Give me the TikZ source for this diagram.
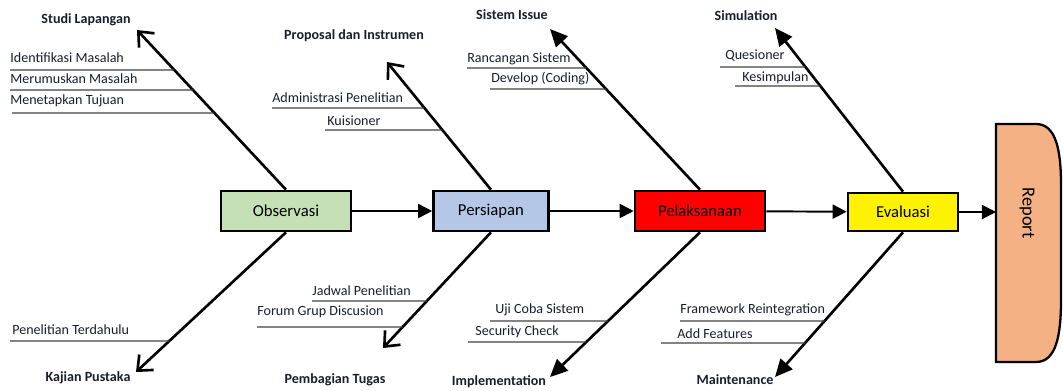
\documentclass[tikz,border=0pt]{standalone}
\usepackage{fontspec}
\setmainfont{Carlito}
\usetikzlibrary{arrows.meta, positioning, calc}
\definecolor{obsgreen}{RGB}{197,224,180}
\definecolor{prepblue}{RGB}{180,199,231}
\definecolor{reportorange}{RGB}{244,177,131}
\definecolor{labelink}{RGB}{25,30,45}

\begin{document}
\begin{tikzpicture}[x=0.02cm, y=-0.02cm,
    box/.style={draw, line width=1.5pt, minimum height=0.8cm, inner sep=0pt, font=\fontsize{9.5}{11}\selectfont},
    flow/.style={-{Triangle[length=8pt,width=8pt]}, line width=1.1pt},
    bone/.style={-{Straight Barb[length=7pt,width=12pt]}, line width=1.5pt},
    bonefill/.style={-{Triangle[length=10pt,width=9pt]}, line width=1.5pt},
    sub/.style={line width=0.8pt, black!75},
    cause/.style={font=\fontsize{8}{9.6}\selectfont\bfseries, text=labelink},
    subtxt/.style={anchor=base west, inner sep=0pt, font=\fontsize{8}{9.6}\selectfont, text=labelink}]
  \useasboundingbox (0,0) rectangle (1063,390);

  % Main process boxes
  \node[box, fill=obsgreen, minimum width=2.6cm] (obs) at (286,211) {Observasi};
  \node[box, fill=prepblue, minimum width=2.3cm] (prep) at (491,211) {Persiapan};
  \node[box, fill=red, minimum width=2.6cm] (exec) at (700,211) {Pelaksanaan};
  \node[box, fill=yellow, minimum width=2.2cm, minimum height=0.76cm] (eval) at (903,212) {Evaluasi};

  % Report head
  \draw[line width=1.3pt, fill=reportorange] (996,124) -- (1036,124)
    .. controls (1056,124) and (1061,150) .. (1061,185) -- (1061,300)
    .. controls (1061,336) and (1056,362) .. (1036,362) -- (996,362) -- cycle;
  \coordinate (repw) at (996,212);
  \node[rotate=-90, font=\fontsize{10.5}{12}\selectfont] (report) at (1027,213) {Report};

  % Spine
  \draw[flow] (obs) -- (prep);
  \draw[flow] (prep) -- (exec);
  \draw[flow] (exec) -- (eval);
  \draw[flow] (eval) -- (repw);

  % Bone tips
  \coordinate (t1) at (137,30);
  \coordinate (t2) at (136,372);
  \coordinate (t3) at (387,62);
  \coordinate (t4) at (383,348);
  \coordinate (t5) at (550,29);
  \coordinate (t6) at (550,377);
  \coordinate (t7) at (775,28);
  \coordinate (t8) at (775,377);

  % Bones
  \draw[bone] (obs.north) -- (t1);
  \draw[bone] (obs.south) -- (t2);
  \draw[bone] (prep.north) -- (t3);
  \draw[bone] (prep.south) -- (t4);
  \draw[bonefill] (exec.north) -- (t5);
  \draw[bonefill] (exec.south) -- (t6);
  \draw[bonefill] (eval.north) -- (t7);
  \draw[bonefill] (eval.south) -- (t8);

  % Cause labels
  \node[cause] (studi) at (86,20) {Studi Lapangan};
  \node[cause] (kajian) at (88,378) {Kajian Pustaka};
  \node[cause] (proposal) at (354,36) {Proposal dan Instrumen};
  \node[cause] (pembagian) at (335,380) {Pembagian Tugas};
  \node[cause] (sistem) at (512,15) {Sistem Issue};
  \node[cause] (implement) at (499,382) {Implementation};
  \node[cause] (simul) at (746,16) {Simulation};
  \node[cause] (mainten) at (735,380) {Maintenance};

  % Observasi - top
  \node[subtxt] (idm) at (10,62) {Identifikasi Masalah};
  \draw[sub] (10,70) -- (intersection of obs.north--t1 and 10,70--20,70);
  \node[subtxt] (mrm) at (10,83) {Merumuskan Masalah};
  \draw[sub] (10,90) -- (intersection of obs.north--t1 and 10,90--20,90);
  \node[subtxt] (mtj) at (10,104) {Menetapkan Tujuan};
  \draw[sub] (12,113) -- (intersection of obs.north--t1 and 12,113--20,113);
  % Observasi - bottom
  \node[subtxt] (pnt) at (12,334) {Penelitian Terdahulu};
  \draw[sub] (10,341) -- (intersection of obs.south--t2 and 10,341--20,341);

  % Persiapan - top
  \node[subtxt] (adm) at (272,102) {Administrasi Penelitian};
  \draw[sub] (272,108) -- (intersection of prep.north--t3 and 272,108--280,108);
  \node[subtxt] (kui) at (327,125) {Kuisioner};
  \draw[sub] (325,130) -- (intersection of prep.north--t3 and 325,130--330,130);
  % Persiapan - bottom
  \node[subtxt] (jdw) at (312,295) {Jadwal Penelitian};
  \draw[sub] (312,301) -- (intersection of prep.south--t4 and 312,301--320,301);
  \node[subtxt] (fgd) at (257,315) {Forum Grup Discusion};
  \draw[sub] (257,327) -- (intersection of prep.south--t4 and 257,327--260,327);

  % Pelaksanaan - top
  \node[subtxt] (rcs) at (467,62) {Rancangan Sistem};
  \draw[sub] (467,68) -- (intersection of exec.north--t5 and 467,68--470,68);
  \node[subtxt] (dev) at (491,82) {Develop (Coding)};
  \draw[sub] (490,89) -- (intersection of exec.north--t5 and 490,89--495,89);
  % Pelaksanaan - bottom
  \node[subtxt] (ujc) at (495,313) {Uji Coba Sistem};
  \draw[sub] (490,321) -- (intersection of exec.south--t6 and 490,321--495,321);
  \node[subtxt] (sec) at (475,335) {Security Check};
  \draw[sub] (468,342) -- (intersection of exec.south--t6 and 468,342--470,342);

  % Evaluasi - top
  \node[subtxt] (qsn) at (725,59) {Quesioner};
  \draw[sub] (720,67) -- (intersection of eval.north--t7 and 720,67--725,67);
  \node[subtxt] (ksp) at (742,81) {Kesimpulan};
  \draw[sub] (735,86) -- (intersection of eval.north--t7 and 735,86--740,86);
  % Evaluasi - bottom
  \node[subtxt] (frm) at (680,313) {Framework Reintegration};
  \draw[sub] (680,321) -- (intersection of eval.south--t8 and 680,321--685,321);
  \node[subtxt] (adf) at (677,338) {Add Features};
  \draw[sub] (661,343) -- (intersection of eval.south--t8 and 661,343--665,343);
\end{tikzpicture}
\end{document}
